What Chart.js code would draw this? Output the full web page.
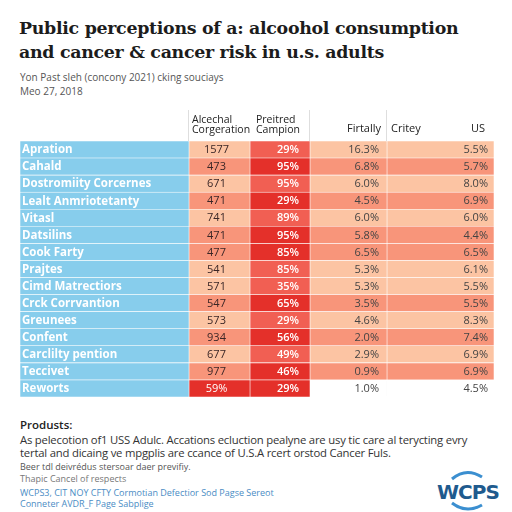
<!DOCTYPE html>
<html><head><meta charset="utf-8">
<script src="https://cdn.jsdelivr.net/npm/chart.js@4"></script>
<style>
html,body{margin:0;padding:0;background:#fff;width:512px;height:512px;overflow:hidden;font-family:"Open Sans",sans-serif}
.abs{position:absolute;white-space:nowrap}
#title{left:19px;top:16px;font:bold 17.4px/24px "DejaVu Serif",serif;color:#1c1c1c;letter-spacing:-0.3px}
#sub{left:20px;top:70px;font:10px/14px "Open Sans",sans-serif;color:#555}
#wrap{position:absolute;left:0;top:105px;width:512px;height:300px}
#foot1{left:20px;top:417px;font:600 11.5px "Open Sans",sans-serif;color:#222}
#foot2{left:20px;top:433px;font:11.3px/13px "Open Sans",sans-serif;color:#333;letter-spacing:-0.2px}
#foot3{left:20px;top:460px;font:9px "Open Sans",sans-serif;color:#555}
#foot4{left:20px;top:472px;font:9px "Open Sans",sans-serif;color:#777}
#foot5{left:20px;top:487px;font:9px/11px "Open Sans",sans-serif;color:#4a8cc4}
#logo{left:430px;top:468px}
</style></head>
<body>
<div id="title" class="abs">Public perceptions of a: alcoohol consumption<br>and cancer &amp; cancer risk in u.s. adults</div>
<div id="sub" class="abs">Yon Past sleh (concony 2021) cking souciays<br>Meo 27, 2018</div>
<div id="wrap"><canvas id="c"></canvas></div>
<div id="foot1" class="abs">Produsts:</div>
<div id="foot2" class="abs">As pelecotion of1 USS Adulc. Accations ecluction pealyne are usy tic care al terycting evry<br>tertal and dicaing ve mpgplis are ccance of U.S.A rcert orstod Cancer Fuls.</div>
<div id="foot3" class="abs">Beer tdl deivrédus stersoar daer previfiy.</div>
<div id="foot4" class="abs">Thapic Cancel of respects</div>
<div id="foot5" class="abs">WCPS3, CIT NOY CFTY Cormotian Defectior Sod Pagse Sereot<br>Conneter AVDR_F Page Sabplige</div>
<svg id="logo" class="abs" width="70" height="44" viewBox="0 0 70 44">
  <path d="M22 11 Q36 -1 52 9" stroke="#3b8fd0" stroke-width="3" fill="none"/>
  <path d="M22 35 Q36 46 52 37" stroke="#3b8fd0" stroke-width="3" fill="none"/>
  <text x="7" y="31" font-family="DejaVu Sans" font-weight="bold" font-size="20" fill="#1f5b8e" letter-spacing="-1">WCPS</text>
</svg>
<script>
// ---- data ----
const rowLabels = ['Apration','Cahald','Dostromiity Corcernes','Lealt Anmriotetanty','Vitasl','Datsilins','Cook Farty','Prajtes','Cimd Matrectiors','Crck Corrvantion','Greunees','Confent','Carclilty pention','Teccivet','Reworts'];
const colHeaders = ['Alcechal\nCorgeration','Preitred\nCampion','Firtally','Critey','US'];
const consumption = ['1577','473','671','471','741','471','477','541','571','547','573','934','677','977','59%'];
const preferred = ['29%','95%','95%','29%','89%','95%','85%','85%','35%','65%','29%','56%','49%','46%','29%'];
const fatality = ['16.3%','6.8%','6.0%','4.5%','6.0%','5.8%','6.5%','5.3%','5.3%','3.5%','4.6%','2.0%','2.9%','0.9%','1.0%'];
const usRate = ['5.5%','5.7%','8.0%','6.9%','6.0%','4.4%','6.5%','6.1%','5.5%','5.5%','8.3%','7.4%','6.9%','6.9%','4.5%'];

// ---- layout / style ----
const edges = [0,169,230,290,367,474];           // column boundaries (px units of the x scale)
const rowTone = [0,1,0,1,0,1,1,0,0,1,0,1,0,1,2];  // 0 light, 1 darker, 2 highlight row
const BLUE='#87cdec', PEACH='#fcc4a3', SALMON='#f8957a', RED='#e4302a', RED_L='#f15f53';
const columns = [null, consumption, preferred, fatality, usRate];

function cellColor(col,i){
  const t=rowTone[i];
  if(col===0) return BLUE;
  if(col===2) return t===0?RED_L:RED;
  if(t===2) return col===1?RED:'rgba(255,255,255,0)';
  return t===0?PEACH:SALMON;
}
const datasets = [0,1,2,3,4].map(c=>({
  label:'col'+c,
  data: rowLabels.map(()=>[edges[c],edges[c+1]]),
  backgroundColor: ctx=>cellColor(c,ctx.dataIndex),
  borderColor:'#ffffff', borderWidth:0.6, borderSkipped:false,
  grouped:false, categoryPercentage:1, barPercentage:1
}));

const cellText = {
  id:'cellText',
  beforeDatasetsDraw(chart){
    const {ctx,chartArea}=chart, xs=chart.scales.x;
    ctx.save(); ctx.strokeStyle='#dedede'; ctx.lineWidth=1;
    [1,3,4].forEach(e=>{const px=Math.round(xs.getPixelForValue(edges[e]))-0.5;
      ctx.beginPath();ctx.moveTo(px,chartArea.top-31);ctx.lineTo(px,chartArea.bottom);ctx.stroke();});
    ctx.restore();
  },
  afterDatasetsDraw(chart){
    const {ctx,chartArea}=chart, xs=chart.scales.x, ys=chart.scales.y;
    ctx.save();
    ctx.textBaseline='middle';
    ctx.fillStyle='#ffffff'; ctx.textAlign='left';
    ctx.font='bold 11.5px "Open Sans", sans-serif';
    chart.data.labels.forEach((lab,i)=>ctx.fillText(lab,xs.getPixelForValue(edges[0])+2,ys.getPixelForValue(i)+0.5));
    for(let c=1;c<=4;c++){
      const meta=chart.getDatasetMeta(c);
      meta.data.forEach((bar,i)=>{
        const p=bar.getProps(['x','y','base'],true);
        const l=Math.min(p.x,p.base), r=Math.max(p.x,p.base);
        const t=rowTone[i];
        ctx.font='11px "Open Sans", sans-serif';
        if(c===1){ctx.fillStyle=t===2?'#fff':'#3a2626';ctx.textAlign='center';ctx.fillText(columns[c][i],(l+r)/2-3,p.y+0.5);}
        else if(c===2){ctx.fillStyle='#fff';ctx.font='600 11px "Open Sans", sans-serif';ctx.textAlign='right';ctx.fillText(columns[c][i],r-11,p.y+0.5);}
        else if(c===3){ctx.fillStyle='#444';ctx.textAlign='right';ctx.fillText(columns[c][i],r-8,p.y+0.5);}
        else {ctx.fillStyle='#444';ctx.textAlign='right';ctx.fillText(columns[c][i],r-6,p.y+0.5);}
      });
    }
    const top=chartArea.top, px=v=>xs.getPixelForValue(v);
    ctx.fillStyle='#222'; ctx.font='10.5px "Open Sans", sans-serif'; ctx.textAlign='left';
    colHeaders[0].split('\n').forEach((s,k)=>ctx.fillText(s,px(edges[1])+3,top-21+k*10));
    colHeaders[1].split('\n').forEach((s,k)=>ctx.fillText(s,px(edges[2])+6,top-21+k*10));
    ctx.font='11px "Open Sans", sans-serif';
    ctx.textAlign='right'; ctx.fillText(colHeaders[2],px(edges[4])-6,top-12);
    ctx.textAlign='left'; ctx.fillText(colHeaders[3],px(edges[4])+4,top-12);
    ctx.textAlign='right'; ctx.fillText(colHeaders[4],px(edges[5])-9,top-12);
    ctx.restore();
  }
};

new Chart(document.getElementById('c'),{
  type:'bar',
  data:{labels:rowLabels,datasets},
  options:{
    indexAxis:'y', responsive:true, maintainAspectRatio:false, animation:false,
    layout:{padding:{left:20,right:18,top:36,bottom:8}},
    plugins:{legend:{display:false},tooltip:{enabled:false}},
    scales:{
      x:{display:false,min:0,max:474},
      y:{display:false}
    }
  },
  plugins:[cellText]
});
</script>
</body></html>
